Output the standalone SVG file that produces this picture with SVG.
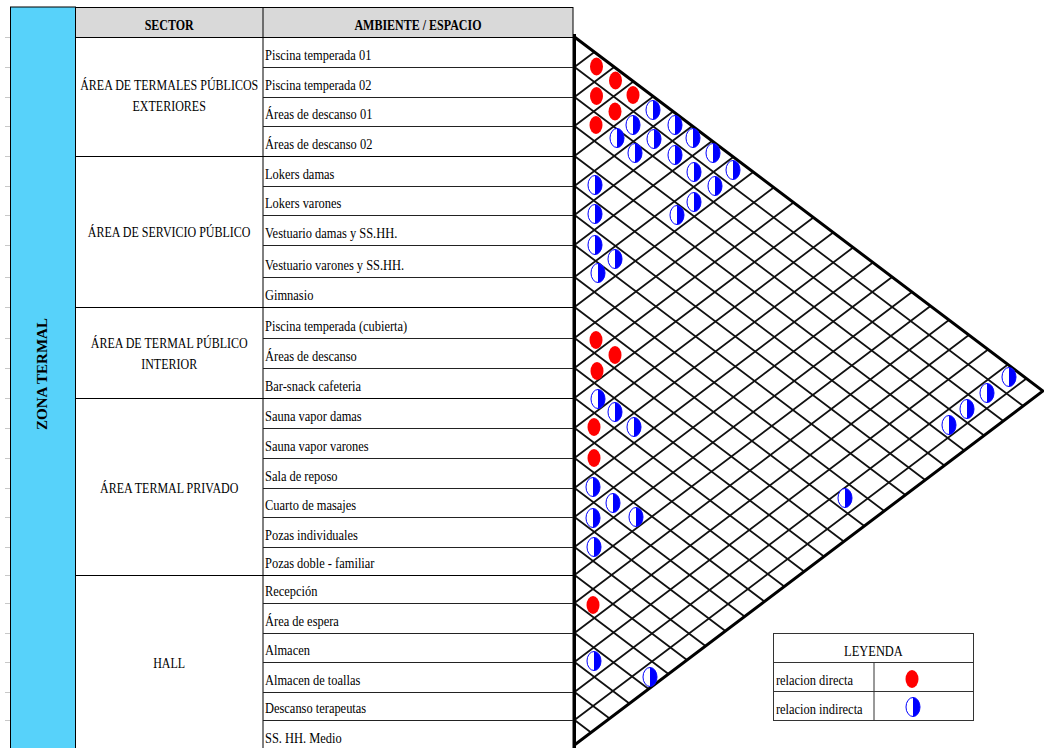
<svg xmlns="http://www.w3.org/2000/svg" xmlns:xlink="http://www.w3.org/1999/xlink" width="1044" height="748" viewBox="0 0 1044 748">
<style>
.t{font-family:"Liberation Serif","Times New Roman",serif;font-size:15px;fill:#000}
.b{font-weight:bold}
.m{text-anchor:middle}
.ln{stroke:#000;stroke-width:1;fill:none}
.rl{stroke:#222;stroke-width:1;fill:none}
.tk{stroke:#c8c8c8;stroke-width:1}
.gr{stroke:#111;stroke-width:1.8;fill:none}
</style>
<defs>
<g id="rd"><ellipse rx="6.5" ry="9" fill="#ff0000"/></g>
<g id="bl"><ellipse rx="7" ry="9.5" fill="#ffffff" stroke="#0000ff" stroke-width="1"/><path d="M0,-9.5 A7,9.5 0 0 1 0,9.5 Z" fill="#0000ff"/></g>
</defs>
<rect width="1044" height="748" fill="#ffffff"/>

<g id="excel-ticks">
<path class="tk" d="M5,37.5H10M5,67.5H10M5,97.5H10M5,126.5H10M5,156.5H10M5,186.5H10M5,215.5H10M5,245.5H10M5,277.5H10M5,307.5H10M5,338.5H10M5,368.5H10M5,398.5H10M5,428.5H10M5,458.5H10M5,488.5H10M5,517.5H10M5,547.5H10M5,575.5H10M5,603.5H10M5,633.5H10M5,662.5H10M5,692.5H10M5,720.5H10"/>
</g>

<g id="zona-termal">
<rect x="10.5" y="7" width="65" height="742" fill="#57D2FA" stroke="#000" stroke-width="1"/>
<text class="t b m" transform="translate(47,374) rotate(-90)">ZONA TERMAL</text>
</g>

<g id="header">
<rect x="75.5" y="7.5" width="497.5" height="30" fill="#D9D9D9" stroke="#000" stroke-width="1"/>
<line class="ln" x1="263" y1="7.5" x2="263" y2="37.5"/>
<g transform="scale(0.8,1)">
<text class="t b m" x="211.5" y="30">SECTOR</text>
<text class="t b m" x="522.5" y="30">AMBIENTE / ESPACIO</text>
</g>
</g>

<g id="table-lines">
<path class="ln" d="M75.5,37.5V749M263,37.5V749M573,37.5V749"/>
<path class="ln" d="M75.5,156.5H573M75.5,307.5H573M75.5,398.5H573M75.5,575.5H573"/>
<path class="rl" d="M263,67.5H573M263,97.5H573M263,126.5H573M263,186.5H573M263,215.5H573M263,245.5H573M263,277.5H573M263,338.5H573M263,368.5H573M263,428.5H573M263,458.5H573M263,488.5H573M263,517.5H573M263,547.5H573M263,603.5H573M263,633.5H573M263,662.5H573M263,692.5H573M263,720.5H573"/>
</g>

<g id="sectors" transform="scale(0.8,1)">
<g id="sector-exteriores"><text class="t m" x="211.5" y="90">ÁREA DE TERMALES PÚBLICOS</text><text class="t m" x="211.5" y="111">EXTERIORES</text></g>
<g id="sector-servicio"><text class="t m" x="211.5" y="237">ÁREA DE SERVICIO PÚBLICO</text></g>
<g id="sector-interior"><text class="t m" x="211.5" y="348">ÁREA DE TERMAL PÚBLICO</text><text class="t m" x="211.5" y="369">INTERIOR</text></g>
<g id="sector-privado"><text class="t m" x="211.5" y="493">ÁREA TERMAL PRIVADO</text></g>
<g id="sector-hall"><text class="t m" x="211.5" y="668">HALL</text></g>
</g>

<g id="ambientes" transform="scale(0.83,1)">
<text class="t" x="319.3" y="60">Piscina temperada 01</text>
<text class="t" x="319.3" y="90">Piscina temperada 02</text>
<text class="t" x="319.3" y="119">Áreas de descanso 01</text>
<text class="t" x="319.3" y="149">Áreas de descanso 02</text>
<text class="t" x="319.3" y="179">Lokers damas</text>
<text class="t" x="319.3" y="208">Lokers varones</text>
<text class="t" x="319.3" y="238">Vestuario damas y SS.HH.</text>
<text class="t" x="319.3" y="270">Vestuario varones y SS.HH.</text>
<text class="t" x="319.3" y="300">Gimnasio</text>
<text class="t" x="319.3" y="331">Piscina temperada (cubierta)</text>
<text class="t" x="319.3" y="361">Áreas de descanso</text>
<text class="t" x="319.3" y="391">Bar-snack cafeteria</text>
<text class="t" x="319.3" y="421">Sauna vapor damas</text>
<text class="t" x="319.3" y="451">Sauna vapor varones</text>
<text class="t" x="319.3" y="481">Sala de reposo</text>
<text class="t" x="319.3" y="510">Cuarto de masajes</text>
<text class="t" x="319.3" y="540">Pozas individuales</text>
<text class="t" x="319.3" y="568">Pozas doble - familiar</text>
<text class="t" x="319.3" y="596">Recepción</text>
<text class="t" x="319.3" y="626">Área de espera</text>
<text class="t" x="319.3" y="655">Almacen</text>
<text class="t" x="319.3" y="685">Almacen de toallas</text>
<text class="t" x="319.3" y="713">Descanso terapeutas</text>
<text class="t" x="319.3" y="743">SS. HH. Medio</text>
</g>

<g id="matrix-grid">
<path class="gr" d="M574.5,67L1023.2,406M574.5,97L1003.3,421M574.5,126L984.1,435.5M574.5,156L964.3,450.5M574.5,186L944.4,465.5M574.5,215L925.2,480M574.5,245L905.4,495M574.5,277L884.2,511M574.5,307L864.3,526M574.5,338L843.8,541.5M574.5,368L824,556.5M574.5,398L804.1,571.5M574.5,428L784.3,586.5M574.5,458L764.4,601.5M574.5,488L744.6,616.5M574.5,517L725.4,631M574.5,547L705.5,646M574.5,575L687,660M574.5,603L668.5,674M574.5,633L648.6,689M574.5,662L629.4,703.5M574.5,692L609.6,718.5M574.5,720L591,732.5"/>
<path class="gr" d="M574.5,67L594.4,52M574.5,97L614.2,67M574.5,126L633.4,81.5M574.5,156L653.3,96.5M574.5,186L673.1,111.5M574.5,215L692.3,126M574.5,245L712.1,141M574.5,277L733.3,157M574.5,307L753.2,172M574.5,338L773.7,187.5M574.5,368L793.5,202.5M574.5,398L813.4,217.5M574.5,428L833.2,232.5M574.5,458L853.1,247.5M574.5,488L872.9,262.5M574.5,517L892.1,277M574.5,547L912,292M574.5,575L930.5,306M574.5,603L949,320M574.5,633L968.9,335M574.5,662L988.1,349.5M574.5,692L1007.9,364.5M574.5,720L1026.5,378.5"/>
<polygon points="574.5,37 1043,391 574.5,745" fill="none" stroke="#000" stroke-width="3"/>
<line x1="574.5" y1="34" x2="574.5" y2="748" stroke="#000" stroke-width="3"/>
</g>

<g id="relations">
<use xlink:href="#rd" x="596.5" y="66.5"/>
<use xlink:href="#rd" x="615.5" y="80.5"/>
<use xlink:href="#rd" x="596.5" y="96"/>
<use xlink:href="#rd" x="633" y="95"/>
<use xlink:href="#rd" x="615" y="111.5"/>
<use xlink:href="#rd" x="596" y="125"/>
<use xlink:href="#rd" x="596" y="340"/>
<use xlink:href="#rd" x="615" y="355"/>
<use xlink:href="#rd" x="597" y="371"/>
<use xlink:href="#rd" x="594" y="427"/>
<use xlink:href="#rd" x="594" y="458"/>
<use xlink:href="#rd" x="593" y="605"/>
<use xlink:href="#bl" x="653" y="110"/>
<use xlink:href="#bl" x="633" y="125"/>
<use xlink:href="#bl" x="675" y="125"/>
<use xlink:href="#bl" x="617" y="138"/>
<use xlink:href="#bl" x="654" y="139"/>
<use xlink:href="#bl" x="693" y="138"/>
<use xlink:href="#bl" x="635" y="153"/>
<use xlink:href="#bl" x="675" y="155"/>
<use xlink:href="#bl" x="713" y="153"/>
<use xlink:href="#bl" x="694" y="172"/>
<use xlink:href="#bl" x="733" y="170"/>
<use xlink:href="#bl" x="595" y="185"/>
<use xlink:href="#bl" x="715" y="186"/>
<use xlink:href="#bl" x="694" y="202"/>
<use xlink:href="#bl" x="595" y="214"/>
<use xlink:href="#bl" x="677" y="215"/>
<use xlink:href="#bl" x="595" y="245"/>
<use xlink:href="#bl" x="615" y="259"/>
<use xlink:href="#bl" x="598" y="273"/>
<use xlink:href="#bl" x="598" y="399"/>
<use xlink:href="#bl" x="615" y="412"/>
<use xlink:href="#bl" x="634" y="427"/>
<use xlink:href="#bl" x="593" y="487"/>
<use xlink:href="#bl" x="613" y="503"/>
<use xlink:href="#bl" x="593" y="518"/>
<use xlink:href="#bl" x="636" y="517"/>
<use xlink:href="#bl" x="594" y="547"/>
<use xlink:href="#bl" x="594" y="661"/>
<use xlink:href="#bl" x="650" y="677"/>
<use xlink:href="#bl" x="845" y="498"/>
<use xlink:href="#bl" x="949" y="425"/>
<use xlink:href="#bl" x="967" y="409"/>
<use xlink:href="#bl" x="987" y="393"/>
<use xlink:href="#bl" x="1009" y="377"/>
</g>

<g id="legend">
<rect x="773.5" y="633.5" width="200" height="87" fill="#ffffff" stroke="#333" stroke-width="1"/>
<path d="M773.5,662.5H973.5M773.5,691.5H973.5M874,662.5V720.5" stroke="#333" stroke-width="1" fill="none"/>
<g transform="scale(0.83,1)">
<text class="t m" x="1052.4" y="656">LEYENDA</text>
<text class="t" x="934.9" y="685">relacion directa</text>
<text class="t" x="934.9" y="714">relacion indirecta</text>
</g>
<use xlink:href="#rd" x="912" y="679"/>
<use xlink:href="#bl" x="913" y="707"/>
</g>
</svg>
